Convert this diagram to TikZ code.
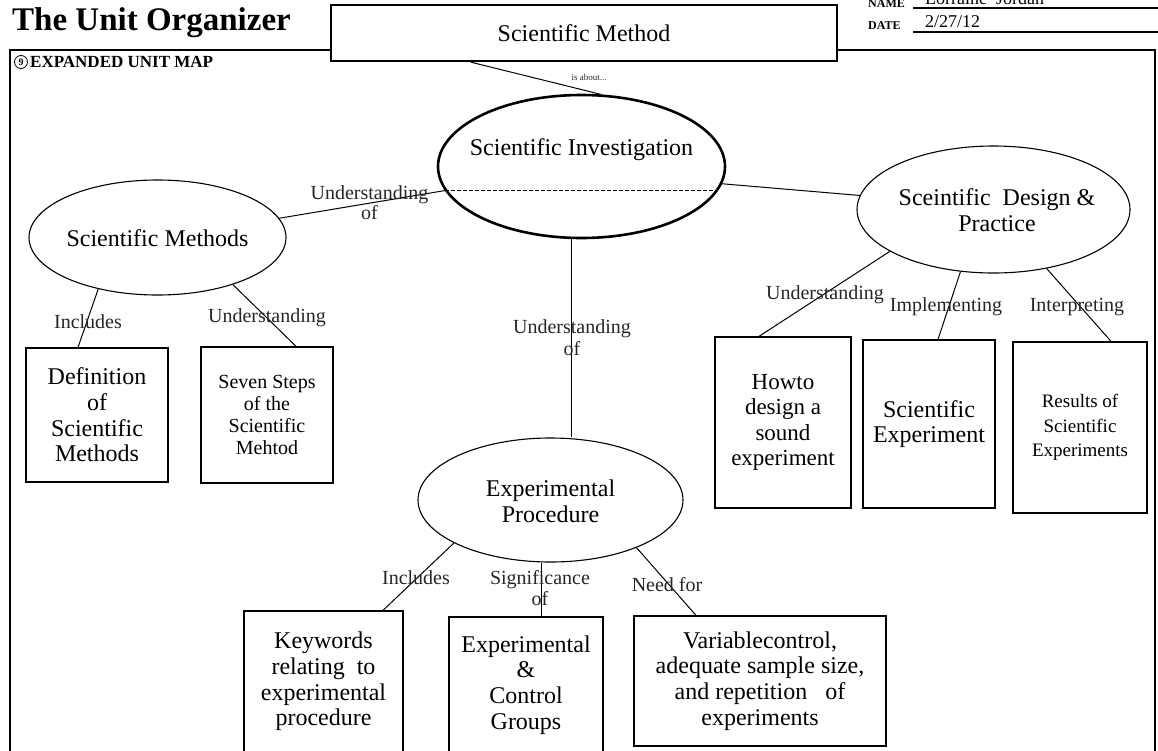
\documentclass[tikz,border=0pt]{standalone}
\usepackage{fontspec}
\setmainfont{Liberation Serif}
\usetikzlibrary{shapes.geometric,calc}

\newcommand\titlefont{\fontsize{33}{36}\bfseries\selectfont}
\newcommand\headfont{\fontsize{12}{14}\bfseries\selectfont}
\newcommand\handfont{\fontsize{18}{20}\selectfont}
\newcommand\mapfont{\fontsize{17}{19}\bfseries\selectfont}
\newcommand\ovalfont{\fontsize{24}{26.5}\selectfont}
\newcommand\cardfont{\fontsize{24}{25.7}\selectfont}
\newcommand\tagfont{\fontsize{20}{21}\selectfont}

\tikzset{
  oval/.style={draw, ellipse, inner sep=0pt, line width=1.1pt},
  card/.style={draw, rectangle, line width=1.3pt, inner sep=2pt, align=center, font=\cardfont},
  tag/.style={inner sep=0pt, align=center, font=\tagfont, text=black!85},
  link/.style={line width=1pt},
}

\begin{document}
\begin{tikzpicture}[x=1pt, y=-1pt]
    \useasboundingbox (0,0) rectangle (1158,750);

    % header
    \node [anchor=base west, inner sep=0pt, font=\titlefont] (title) at (12,30) {The Unit Organizer};
    \node [anchor=base west, inner sep=0pt, font=\headfont] (namekey) at (868,7) {NAME};
    \node [anchor=base west, inner sep=0pt, font=\headfont] (datekey) at (868,29) {DATE};
    \node [anchor=base west, inner sep=0pt, font=\handfont] (name) at (925,4) {Lorraine\ \ Jordan};
    \node [anchor=base west, inner sep=0pt, font=\handfont] (date) at (925,27) {2/27/12};
    \draw [line width=1.2pt] (913,8) -- (1158,8);
    \draw [line width=1.2pt] (913,32) -- (1158,32);

    % frame
    \draw [line width=1.8pt] (10,760) |- (1155,50) -- (1155,760);
    \node [draw, circle, line width=0.8pt, inner sep=0pt, minimum size=13pt,
           font=\bfseries\fontsize{10}{10}\selectfont] (nine) at (21,62) {9};
    \node [anchor=west, inner sep=0pt, font=\mapfont] (mapkey) at (30,62) {EXPANDED UNIT MAP};

    % ovals
    \node [draw, fill=white, line width=2.4pt, minimum width=506pt, minimum height=56pt,
           font=\fontsize{24}{26}\selectfont] (topic) at (584,33) {Scientific Method};
    \node [oval, line width=2.6pt, minimum width=287pt, minimum height=143pt] (inv) at (581.5,166.5) {};
    \node [oval, minimum width=257pt, minimum height=115pt] (sm) at (157.5,237.5) {};
    \node [oval, minimum width=273pt, minimum height=127pt] (sdp) at (993.5,209.5) {};
    \node [oval, minimum width=265pt, minimum height=124pt] (ep) at (550.5,500) {};
    \node [font=\ovalfont] (inv-txt) at (581.5,150) {Scientific Investigation};
    \node [font=\ovalfont] (sm-txt) at (157.5,238) {Scientific Methods};
    \node [font=\ovalfont, align=center] (sdp-txt) at (997,210) {Sceintific\ \ Design \&\\Practice};
    \node [font=\ovalfont, align=center] (ep-txt) at (550.5,501.5) {Experimental\\Procedure};
    \draw [line width=1pt, dash pattern=on 4pt off 2pt] (inv.190) -- (inv.350);

    % boxes
    \node [card, minimum width=142pt, minimum height=134pt] (def) at (97,415) {Definition\\of\\Scientific\\Methods};
    \node [card, minimum width=132pt, minimum height=136pt, font=\fontsize{20}{22}\selectfont] (seven) at (267,415) {Seven Steps\\of the\\Scientific\\Mehtod};
    \node [card, minimum width=136pt, minimum height=171pt, font=\fontsize{23}{25.5}\selectfont] (howto) at (783,422.5) {Howto\\design a\\sound\\experiment};
    \node [card, minimum width=132pt, minimum height=168pt] (sciexp) at (929,424) {Scientific\\Experiment};
    \node [card, minimum width=134pt, minimum height=171pt, font=\fontsize{19}{24.5}\selectfont] (results) at (1080,427.5) {Results of\\Scientific\\Experiments};
    \node [card, minimum width=159pt, minimum height=141pt] (keywords) at (323.5,681.5) {Keywords\\relating\ \ to\\experimental\\procedure};
    \node [card, minimum width=154pt, minimum height=136pt] (groups) at (526,685) {Experimental\\\&\\Control\\Groups};
    \node [card, minimum width=252pt, minimum height=130pt] (variable) at (760,681) {Variablecontrol,\\adequate sample size,\\and repetition\ \ \ of\\experiments};

    % links
    \coordinate (grp-top) at ([xshift=15pt]groups.north);
    \draw [link] ([xshift=-113pt]topic.south) -- (inv.75);
    \draw [link] (sm.9) -- (inv.190);
    \draw [link] (inv.353) -- (sdp.174);
    \draw [link] (inv.262) -- (inv.262 |- ep.north);
    \draw [link] (sm.221) -- ([xshift=-19pt]def.north);
    \draw [link] (sm.-32) -- ([xshift=29pt]seven.north);
    \draw [link] (sdp.202) -- ([xshift=-24pt]howto.north);
    \draw [link] (sdp.242) -- ([xshift=9pt]sciexp.north);
    \draw [link] (sdp.312) -- ([xshift=31pt]results.north);
    \draw [link] (ep.204) -- ([xshift=59.5pt]keywords.north);
    \draw [link] (grp-top |- ep.south) -- (grp-top);
    \draw [link] (ep.331) -- ([xshift=-64pt]variable.north);

    % add labels
    \node [tag, font=\fontsize{9}{10}\selectfont] (t-about) at (589,77) {is about...};
    \node [tag, font=\fontsize{20}{20}\selectfont] (t-sm) at (369.5,203) {Understanding\\of};
    \node [tag] (t-def) at (88,322) {Includes};
    \node [tag] (t-seven) at (267,318) {Understanding};
    \node [tag, font=\fontsize{20}{22}\selectfont] (t-ep) at (572,338) {Understanding\\of};
    \node [tag] (t-howto) at (825,295) {Understanding};
    \node [tag] (t-sciexp) at (946,307) {Implementing};
    \node [tag] (t-results) at (1077,307) {Interpreting};
    \node [tag] (t-keywords) at (416,578) {Includes};
    \node [tag] (t-groups) at (540,588.5) {Significance\\of};
    \node [tag] (t-variable) at (667,585) {Need for};
\end{tikzpicture}
\end{document}
